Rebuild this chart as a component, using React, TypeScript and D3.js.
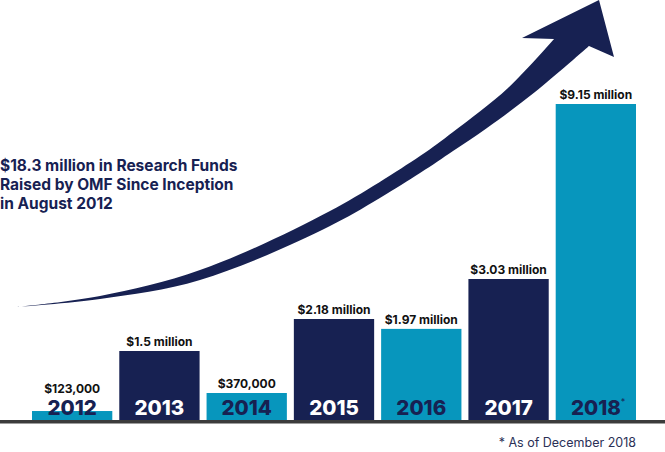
import React from 'react';
import * as d3 from 'd3';

// Funds raised per year, in millions of dollars
const years = ['2012', '2013', '2014', '2015', '2016', '2017', '2018'];
const raised = [0.123, 1.5, 0.37, 2.18, 1.97, 3.03, 9.15];
const valueLabels = ['$123,000', '$1.5 million', '$370,000', '$2.18 million', '$1.97 million', '$3.03 million', '$9.15 million'];
const titleLines = ['$18.3 million in Research Funds', 'Raised by OMF Since Inception', 'in August 2012'];
const footnote = '* As of December 2018';

// the infographic is not to scale: small years are stretched, 2018 is squeezed
const yKnots = [0, 0.37, 1.5, 3.03, 9.15];

const W = 665;
const H = 452;
const NAVY = '#172152';
const TEAL = '#0796bd';
const FONT = 'Inter, "Open Sans", sans-serif';

// decorative swoosh arrow (not data)
const arrowUpper: [number, number][] = [
  [17, 307], [100, 296], [200, 270], [330, 211], [420, 156],
  [453, 132], [508, 88], [554, 39],
];
const arrowLower: [number, number][] = [
  [589, 46], [535, 92], [487, 128], [453, 151], [420, 173], [330, 226],
  [200, 280], [100, 299], [17, 307],
];
const arrowHead: [number, number][] = [[522, 38], [599, 0], [614, 57]];

export default function App() {
  const baseline = 420;
  const top = 104;

  const x = d3.scaleBand<string>()
    .domain(years)
    .range([32, 636])
    .paddingInner(0.08)
    .paddingOuter(0);

  const y = d3.scaleLinear()
    .domain(yKnots)
    .range([0, 27 / 316, 69 / 316, 141 / 316, 1].map(f => baseline - f * (baseline - top)));

  const edge = d3.line().curve(d3.curveCatmullRom.alpha(0.5));
  const upperD = edge(arrowUpper) || '';
  const lowerD = (edge(arrowLower) || '').replace(/^M/, 'L');
  const headD = arrowHead.map(p => `L${p[0]},${p[1]}`).join('');
  const arrowD = upperD + headD + lowerD + 'Z';

  const yearTextTop = baseline - 22;

  return (
    <div style={{ position: 'absolute', left: 0, top: 0 }}>
      <svg width={W} height={H} style={{ display: 'block', background: '#fff' }}>
        <path d={arrowD} fill={NAVY} />

        {titleLines.map((t, i) => (
          <text key={t} x={0} y={170.5 + i * 19.3} fill={NAVY}
            fontFamily={FONT} fontWeight={700} fontSize={15.5}>{t}</text>
        ))}

        {years.map((yr, i) => {
          const teal = i % 2 === 0;
          const bx = x(yr)!;
          const by = y(raised[i]);
          const cx = bx + x.bandwidth() / 2;
          return (
            <g key={yr}>
              <rect x={bx} y={by} width={x.bandwidth()} height={baseline - by} fill={teal ? TEAL : NAVY} />
              <text x={cx} y={Math.min(by, yearTextTop) - 5} textAnchor="middle" fill="#111"
                fontFamily={FONT} fontWeight={700} fontSize={12}>{valueLabels[i]}</text>
              <text x={cx} y={baseline - 5} textAnchor="middle" fill={teal ? NAVY : '#fff'}
                fontFamily={FONT} fontWeight={800} fontSize={20.5}>{yr}</text>
              {yr === '2018' && (
                <text x={cx + 25} y={baseline - 15} fill={NAVY} fontFamily={FONT} fontSize={9}>*</text>
              )}
            </g>
          );
        })}

        <rect x={0} y={baseline} width={W} height={3.5} fill="#3c3c3c" />

        <text x={636} y={447} textAnchor="end" fill="#2b3156" fontFamily={FONT} fontSize={12.5}>{footnote}</text>
      </svg>
    </div>
  );
}
